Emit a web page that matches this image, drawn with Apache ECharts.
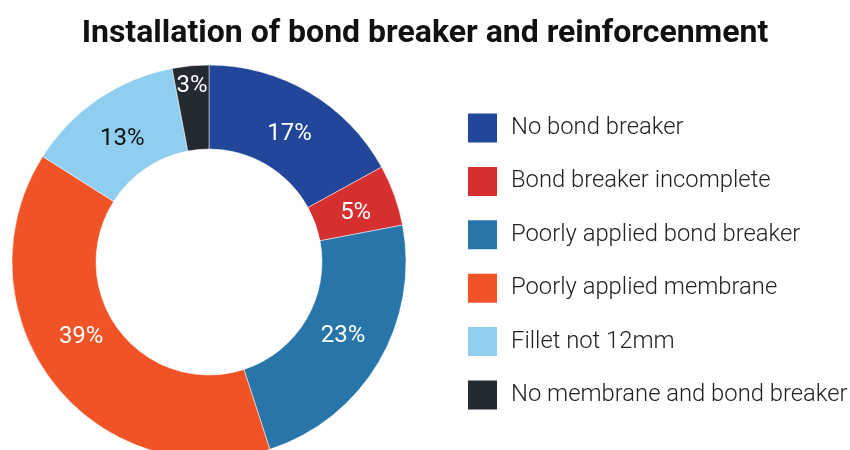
<!DOCTYPE html>
<html><head><meta charset="utf-8">
<script src="https://cdn.jsdelivr.net/npm/echarts@6/dist/echarts.min.js"></script>
<style>html,body{margin:0;padding:0;background:#fff}#c{width:850px;height:450px}</style>
</head><body><div id="c"></div>
<script>
const categories = ["No bond breaker","Bond breaker incomplete","Poorly applied bond breaker","Poorly applied membrane","Fillet not 12mm","No membrane and bond breaker"];
const values = [17, 5, 23, 39, 13, 3];
const colors = ["#22469a","#d52f30","#2775a9","#f05326","#8fceee","#232a31"];
const labelColors = ["#fff","#fff","#fff","#fff","#111","#fff"];
const labelOffsets = [[0,8],[-2,5],[-2,-6],[-3,-22],[2,8],[-2,-19]];

const chart = echarts.init(document.getElementById('c'));
chart.setOption({
  animation: false,
  title: {text: "Installation of bond breaker and reinforcenment", left: 'center', top: 13,
    textStyle: {fontFamily: 'Roboto', fontWeight: 'bold', fontSize: 32, color: '#111'}},
  legend: {orient: 'vertical', left: 466, top: 111.5, padding: 0, itemWidth: 31, itemHeight: 31, itemGap: 20.4,
    icon: 'rect', textStyle: {fontFamily: 'Roboto', fontWeight: 300, fontSize: 23.8, color: '#222', padding:[0,0,0,8]},
    data: categories},
  series: [{
    type: 'pie', center: [209, 262], radius: [113, 197], startAngle: 90, clockwise: true,
    itemStyle: {borderColor: '#fff', borderWidth: 0.5},
    label: {position: 'inside', formatter: '{c}%', fontFamily: 'Roboto', fontSize: 24},
    labelLine: {show: false},
    data: categories.map((n, i) => ({name: n, value: values[i], itemStyle: {color: colors[i]},
      label: {color: labelColors[i], offset: labelOffsets[i]}}))
  }]
});
</script></body></html>
